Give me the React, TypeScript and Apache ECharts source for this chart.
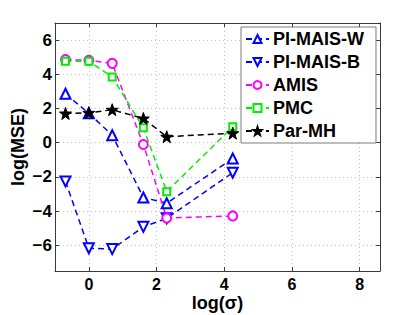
import React, { useEffect, useRef } from "react";
import * as echarts from "echarts";

const logSigma = [-0.69, 0, 0.69, 1.61, 2.3, 4.25];
const piMaisW = [2.86, 1.72, 0.44, -3.2, -3.54, -0.92];
const piMaisB = [-2.26, -6.17, -6.22, -4.92, -4.42, -1.75];
const amis = [4.86, 4.82, 4.64, -0.1, -4.4, -4.28];
const pmc = [4.76, 4.76, 3.85, 0.87, -2.86, 0.93];
const parMH = [1.71, 1.75, 1.93, 1.42, 0.35, 0.56];

const seriesNames = ["PI-MAIS-W", "PI-MAIS-B", "AMIS", "PMC", "Par-MH"];

const STAR =
  "path://M0,-10L2.35,-3.24L9.51,-3.09L3.8,1.24L5.88,8.09L0,4L-5.88,8.09L-3.8,1.24L-9.51,-3.09L-2.35,-3.24Z";

const FONT = "Liberation Sans";

function pairs(ys: number[]) {
  return logSigma.map((x, i) => [x, ys[i]]);
}

const minusFmt = (v: number) => String(v).replace("-", "\u2212");

export default function App() {
  const ref = useRef<HTMLDivElement>(null);
  useEffect(() => {
    if (!ref.current) return;
    const chart = echarts.init(ref.current, null, { renderer: "svg" });
    const dashed = [6, 4];
    const mk = (
      name: string,
      ys: number[],
      color: string,
      symbol: string,
      size: number,
      rotate = 0,
      filled = false
    ) => ({
      name,
      type: "line",
      data: pairs(ys),
      symbol,
      symbolSize: size,
      symbolRotate: rotate,
      showAllSymbol: true,
      lineStyle: { color, width: 1.5, type: dashed },
      itemStyle: filled
        ? { color, borderColor: color, borderWidth: 1 }
        : { color, borderColor: color, borderWidth: 1.5 },
      emphasis: { disabled: true },
      z: 2,
    });
    const axisCommon = {
      type: "value",
      axisLine: { show: true, onZero: false, lineStyle: { color: "#3a3a3a", width: 1 } },
      axisTick: { show: true, inside: true, length: 4, lineStyle: { color: "#3a3a3a" } },
      splitLine: { show: false },
    };
    chart.setOption({
      animation: false,
      backgroundColor: "#ffffff",
      grid: { left: 55, top: 23, right: 40, bottom: 44, containLabel: false, outerBoundsMode: "none" },
      xAxis: [
        {
          ...axisCommon,
          min: -1,
          max: 8.6,
          splitNumber: 5,
          position: "bottom",
          name: "log(\u03c3)",
          nameLocation: "middle",
          nameGap: 23,
          nameMoveOverlap: false,
          nameTextStyle: { fontFamily: FONT, fontSize: 18, lineHeight: 18, fontWeight: "bold", color: "#000" },
          axisLabel: {
            show: true,
            margin: 6,
            showMinLabel: false,
            showMaxLabel: false,
            fontFamily: FONT,
            fontSize: 16,
            lineHeight: 14,
            fontWeight: "bold",
            color: "#000",
            formatter: minusFmt,
          },
          splitLine: { show: true, lineStyle: { color: "#c4c4c4", type: [1, 3], width: 1 } },
        },
        {
          ...axisCommon,
          min: -1,
          max: 8.6,
          splitNumber: 5,
          position: "top",
          axisLabel: { show: false },
        },
      ],
      yAxis: [
        {
          ...axisCommon,
          min: -7.5,
          max: 7,
          splitNumber: 7,
          position: "left",
          name: "log(MSE)",
          nameLocation: "middle",
          nameGap: 28,
          nameMoveOverlap: false,
          nameTextStyle: { fontFamily: FONT, fontSize: 18, fontWeight: "bold", color: "#000" },
          axisLabel: {
            show: true,
            margin: 3,
            showMinLabel: false,
            showMaxLabel: false,
            fontFamily: FONT,
            fontSize: 17,
            fontWeight: "bold",
            color: "#000",
            formatter: minusFmt,
          },
          splitLine: { show: true, lineStyle: { color: "#c4c4c4", type: [1, 3], width: 1 } },
        },
        {
          ...axisCommon,
          min: -7.5,
          max: 7,
          splitNumber: 7,
          position: "right",
          axisLabel: { show: false },
        },
      ],
      legend: {
        data: seriesNames,
        orient: "vertical",
        left: 241,
        top: 27,
        padding: [3, 12, 3, 4],
        itemGap: 5,
        itemWidth: 23,
        itemHeight: 10,
        backgroundColor: "#ffffff",
        borderColor: "#7a7a7a",
        borderWidth: 1,
        borderRadius: 0,
        selectedMode: false,
        textStyle: { fontFamily: FONT, fontSize: 18, fontWeight: "bold", color: "#000", padding: [0, 0, 0, -1] },
        z: 10,
      },
      series: [
        mk(seriesNames[0], piMaisW, "#0000ff", "emptyTriangle", 10),
        mk(seriesNames[1], piMaisB, "#0000ff", "emptyTriangle", 10, 180),
        mk(seriesNames[2], amis, "#ff00ff", "emptyCircle", 9),
        mk(seriesNames[3], pmc, "#00ee00", "emptyRect", 7),
        mk(seriesNames[4], parMH, "#000000", STAR, 12, 0, true),
      ],
    });
    return () => chart.dispose();
  }, []);
  return (
    <div
      ref={ref}
      style={{ position: "fixed", left: 0, top: 0, width: 420, height: 315 }}
    />
  );
}
